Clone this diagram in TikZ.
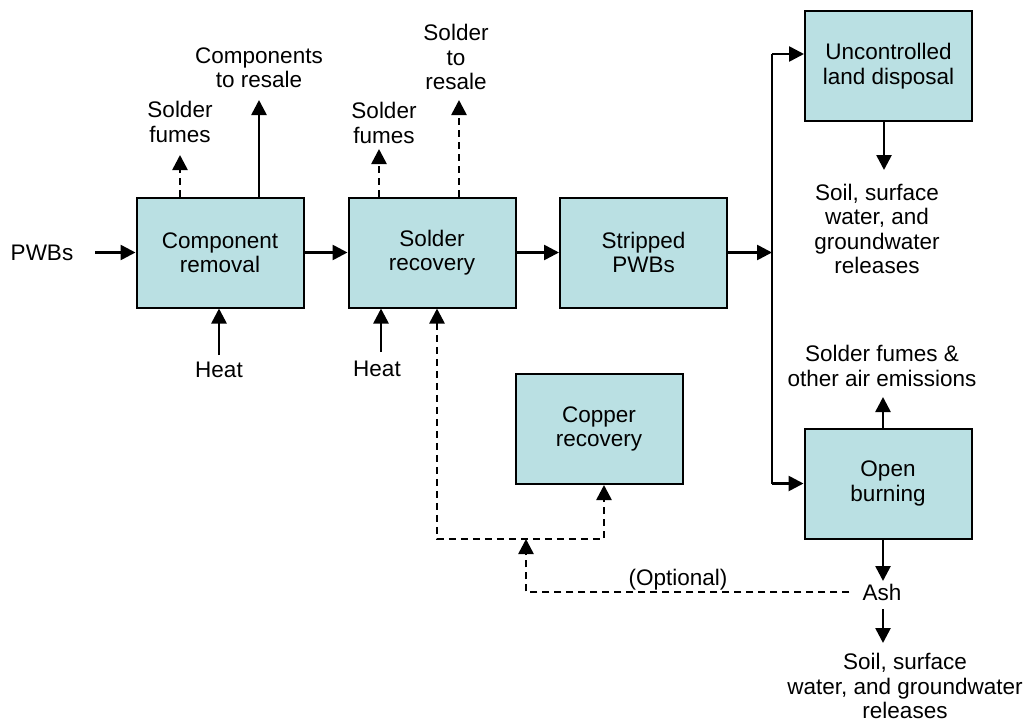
\documentclass[tikz,border=0pt]{standalone}
\usepackage{fontspec}
\setmainfont{Liberation Sans}
\usetikzlibrary{arrows.meta}
\definecolor{boxfill}{RGB}{186,224,227}
\begin{document}
\begin{tikzpicture}[x=1pt,y=-1pt,
  txt/.style={font=\fontsize{22.5}{24.5}\selectfont},
  box/.style={txt, draw=black, line width=2pt, fill=boxfill,
    minimum width=167pt, minimum height=110pt, inner sep=0pt, align=center},
  lbl/.style={txt, align=center, inner sep=0pt},
  head/.tip={Triangle[length=15pt,width=15pt]},
  tip/.style={-head},
  flow/.style={line width=2.6pt, tip},
  optline/.style={line width=2.6pt, dash pattern=on 7pt off 5pt},
  opt/.style={optline, tip},
]
\useasboundingbox (0,0) rectangle (1024,723);

% process boxes
\node[box] (comp)   at (220,252.5)  {Component\\removal};
\node[box] (solder) at (432,252.5)  {Solder\\recovery};
\node[box] (strip)  at (643.5,252.5){Stripped\\PWBs};
\node[box] (copper) at (599,429)    {Copper\\recovery};
\node[box] (landf)  at (888.5,66)   {Uncontrolled\\land disposal};
\node[box] (burn)   at (888,483.5)  {Open\\burning};

% free labels
\node[lbl] (pwbs)    at (42,252.5) {PWBs};
\node[lbl] (heatA)   at (219,370)  {Heat};
\node[lbl] (heatB)   at (377,369)  {Heat};
\node[lbl] (fumesA)  at (180,122)  {Solder\\fumes};
\node[lbl] (compres) at (259,68)   {Components\\to resale};
\node[lbl] (fumesB)  at (384,123)  {Solder\\fumes};
\node[lbl] (soldres) at (456,57)   {Solder\\to\\resale};
\node[lbl] (relA)    at (877,229)  {Soil, surface\\water, and\\groundwater\\releases};
\node[lbl] (air)     at (882,366)  {Solder fumes \&\\other air emissions};
\node[lbl] (ash)     at (882,592)  {Ash};
\node[lbl] (relB)    at (905,686)  {Soil, surface\\water, and groundwater\\releases};
\node[lbl] (optional) at (678,580) {(Optional)};

% free ends and bends
\coordinate (heatAtail) at (219,355);
\coordinate (heatBtail) at (381,352);
\coordinate (fumesAtip) at (180,155);
\coordinate (compretip) at (259,100);
\coordinate (fumesBtip) at (379,149);
\coordinate (solretip)  at (459,100);
\coordinate (split)     at (772,252.5);
\coordinate (upturn)    at (772,54);
\coordinate (downturn)  at (772,483.5);
\coordinate (landtip)   at (884,170);
\coordinate (airtip)    at (883,397);
\coordinate (ashtip)    at (883,581);
\coordinate (ashtail)   at (883,609);
\coordinate (reltip)    at (883,643);
\coordinate (optjoin)   at (526,539);
\coordinate (splitL)    at (437,539);
\coordinate (splitR)    at (604,539);

% main flow
\draw[flow] (pwbs.east) ++(22,0) -- (comp.west);
\draw[flow] (comp) -- (solder);
\draw[flow] (solder) -- (strip);
\draw[flow] (strip) -- (split);
\draw[line width=2.6pt] (upturn) -- (downturn);
\draw[flow] (upturn) -- (upturn -| landf.west);
\draw[flow] (downturn) -- (burn.west);

% inputs and outputs
\draw[flow] (heatAtail) -- (heatAtail |- comp.south);
\draw[flow] (heatBtail) -- (heatBtail |- solder.south);
\draw[opt]  (fumesAtip |- comp.north) -- (fumesAtip);
\draw[flow] (compretip |- comp.north) -- (compretip);
\draw[opt]  (fumesBtip |- solder.north) -- (fumesBtip);
\draw[opt]  (solretip |- solder.north) -- (solretip);
\draw[flow] (landtip |- landf.south) -- (landtip);
\draw[flow] (airtip |- burn.north) -- (airtip);
\draw[flow] (ashtip |- burn.south) -- (ashtip);
\draw[flow] (ashtail) -- (reltip);

% optional ash return loop
\draw[opt] (ash.west) ++(-13,0) -| (optjoin);
\draw[optline, head-head]
  (splitL |- solder.south) -- (splitL) -- (splitR) -- (splitR |- copper.south);
\end{tikzpicture}
\end{document}
